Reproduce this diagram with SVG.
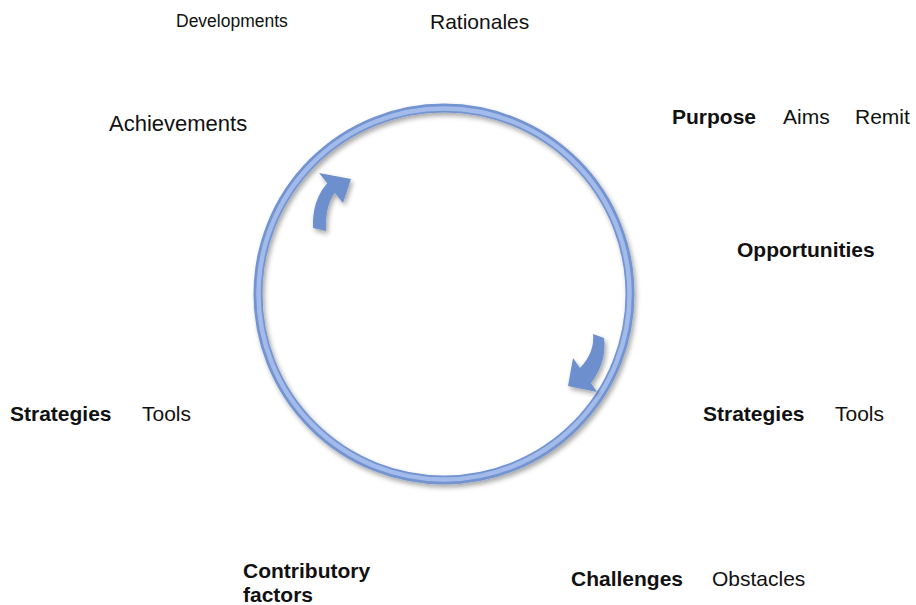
<svg xmlns="http://www.w3.org/2000/svg" width="916" height="605" viewBox="0 0 916 605">
  <defs>
    <filter id="shadow" x="-20%" y="-20%" width="140%" height="140%">
      <feGaussianBlur in="SourceAlpha" stdDeviation="2.5"/>
      <feOffset dx="2" dy="3" result="b"/>
      <feComponentTransfer><feFuncA type="linear" slope="0.35"/></feComponentTransfer>
      <feMerge><feMergeNode/><feMergeNode in="SourceGraphic"/></feMerge>
    </filter>
  </defs>
  <style>
    text { font-family: "Liberation Sans", Arial, sans-serif; font-size: 21px; fill: #111; }
    .b { font-weight: bold; }
    .ring { fill: none; stroke: #7394d0; stroke-width: 9; }
    .ring-hi { fill: none; stroke: #a3bbea; stroke-width: 4.5; }
    .arrow { fill: #6d8fcd; }
  </style>
  <rect width="916" height="605" fill="#ffffff"/>

  <!-- cycle ring -->
  <g id="cycle" filter="url(#shadow)">
    <circle class="ring" cx="444" cy="294" r="186"/>
    <circle class="ring-hi" cx="444" cy="294" r="185.5"/>
  </g>

  <!-- direction arrows -->
  <g id="connectors" filter="url(#shadow)">
    <path class="arrow" d="M319,173 L351,179 L343,203 L334.7,192.7 Q325,206 326,231 L313,228 Q312,200 327.3,183.3 Z"/>
    <path class="arrow" d="M593,334 L604,338 Q607,362 591,383 L597,392 L568,386 L573,358 L580,368 Q595,352 593,334 Z"/>
  </g>

  <!-- labels -->
  <g id="developments"><text x="176" y="27" style="font-size:17.5px">Developments</text></g>
  <g id="rationales"><text x="430" y="29">Rationales</text></g>
  <g id="achievements"><text x="109" y="131" style="font-size:22px">Achievements</text></g>
  <g id="purpose">
    <text x="672" y="124" class="b">Purpose</text>
    <text x="783" y="124">Aims</text>
    <text x="855" y="124">Remit</text>
  </g>
  <g id="opportunities"><text x="737" y="257" class="b">Opportunities</text></g>
  <g id="strategies-right">
    <text x="703" y="421" class="b">Strategies</text>
    <text x="835" y="421">Tools</text>
  </g>
  <g id="strategies-left">
    <text x="10" y="421" class="b">Strategies</text>
    <text x="142" y="421">Tools</text>
  </g>
  <g id="contributory">
    <text x="243" y="578" class="b">Contributory</text>
    <text x="243" y="602" class="b">factors</text>
  </g>
  <g id="challenges">
    <text x="571" y="586" class="b">Challenges</text>
    <text x="712" y="586">Obstacles</text>
  </g>
</svg>
